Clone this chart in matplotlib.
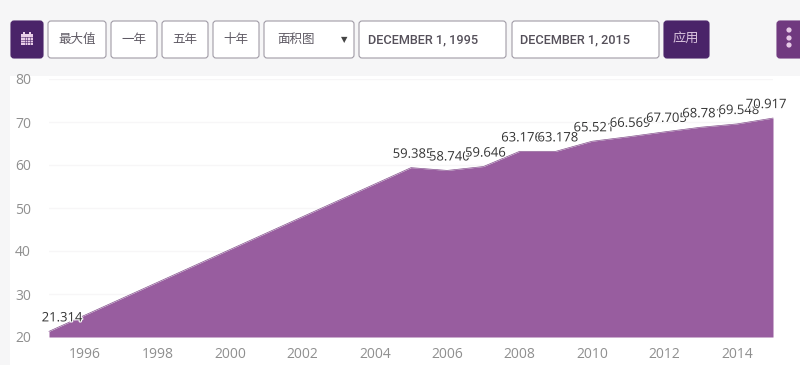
import matplotlib
matplotlib.use("Agg")
import matplotlib.pyplot as plt
import matplotlib.patheffects as pe
from matplotlib.patches import FancyBboxPatch, Rectangle, Circle

plt.rcParams['font.family'] = ['Open Sans', 'Noto Sans CJK SC', 'DejaVu Sans']

years = [1995, 2005, 2006, 2007, 2008, 2009, 2010, 2011, 2012, 2013, 2014, 2015]
values = [21.314, 59.385, 58.74, 59.646, 63.176, 63.178, 65.521, 66.569, 67.705, 68.781, 69.548, 70.917]
labels = ['21.314', '59.385', '58.740', '59.646', '63.176', '63.178', '65.521', '66.569', '67.705', '68.781', '69.548', '70.917']
# the first and last label get pushed inwards by the chart
label_shift = [13, 2, 2, 2, 2, 2, 2, 2, 2, 2, 2, -7]
x_ticks = [1996, 1998, 2000, 2002, 2004, 2006, 2008, 2010, 2012, 2014]
y_ticks = [20, 30, 40, 50, 60, 70, 80]
buttons = ['最大值', '一年', '五年', '十年']
date_from = 'DECEMBER 1, 1995'
date_to = 'DECEMBER 1, 2015'

W, H = 800, 365
fig = plt.figure(figsize=(W / 100, H / 100), dpi=100, facecolor='#f6f6f7')

# toolbar and page background, in pixels
ui = fig.add_axes([0, 0, 1, 1], zorder=0)
ui.set_xlim(0, W)
ui.set_ylim(H, 0)
ui.axis('off')
ui.add_patch(Rectangle((10, 76), 790, 289, fc='white', ec='none'))


def button(x, y, w, h, fc='white', ec='#a09ba6'):
    ui.add_patch(FancyBboxPatch((x + 2, y + 2), w - 4, h - 4, boxstyle='round,pad=2,rounding_size=3',
                                fc=fc, ec=ec, lw=0.8))


button(11, 21, 32, 37, fc='#4a2469', ec='#4a2469')
ui.add_patch(Rectangle((21, 34), 12, 11, fc='#e8cfe8', ec='none'))
ui.add_patch(Rectangle((23, 32), 2, 3, fc='#e8cfe8', ec='none'))
ui.add_patch(Rectangle((29, 32), 2, 3, fc='#e8cfe8', ec='none'))
for gx in (24.5, 27, 29.5):
    ui.plot([gx, gx], [37, 44.5], color='#4a2469', lw=0.4)
for gy in (37, 39.5, 42):
    ui.plot([21, 33], [gy, gy], color='#4a2469', lw=0.4)

btn_x = [48, 111, 162, 213]
btn_w = [58, 46, 46, 46]
for bx, bw, name in zip(btn_x, btn_w, buttons):
    button(bx, 21, bw, 37)
    ui.text(bx + bw / 2, 39.5, name, ha='center', va='center', fontsize=9, color='#5f5a64')

button(264, 21, 90, 37)
ui.text(277, 39.5, '面积图', ha='left', va='center', fontsize=9, color='#5f5a64')
ui.text(344, 39.5, '▼', ha='center', va='center', fontsize=6, color='#444444', family='DejaVu Sans')

button(359, 21, 147, 37)
ui.text(368, 40, date_from, ha='left', va='center', fontsize=9.2, fontweight='medium',
        color='#55505a', family='Roboto')
button(512, 21, 147, 37)
ui.text(520, 40, date_to, ha='left', va='center', fontsize=9.2, fontweight='medium',
        color='#55505a', family='Roboto')

button(664, 21, 45, 37, fc='#4a2469', ec='#4a2469')
ui.text(686, 39.5, '应用', ha='center', va='center', fontsize=9.5, color='#d9c3de')

button(777, 21, 31, 37, fc='#70397f', ec='#70397f')
for dy in (30, 38, 45):
    ui.add_patch(Circle((789, dy), 2.6, fc='#e6c9e6', ec='none'))

# chart, axes box placed so that 1995 = 49px, 2015 = 773px, 80 = 79px, 20 = 337px
ax = fig.add_axes([49 / W, 1 - 337 / H, (773 - 49) / W, (337 - 79) / H], zorder=1)
ax.patch.set_alpha(0)
ax.set_xlim(1995, 2015)
ax.set_ylim(20, 80)
ax.fill_between(years, values, 20, color='#985d9f', lw=0, clip_on=False)
ax.plot(years, values, color='#84508d', lw=0.5, clip_on=False)

for s in ax.spines.values():
    s.set_visible(False)
ax.set_xticks(x_ticks)
ax.set_yticks(y_ticks)
ax.tick_params(length=0, labelsize=10, labelcolor='#8f8f8f')
ax.tick_params(axis='x', pad=7)
ax.tick_params(axis='y', pad=13)
ax.grid(axis='y', color='#f7f6f7', lw=1)
ax.set_axisbelow(True)

halo = [pe.withStroke(linewidth=1.6, foreground='white')]
for x, y, t, dx in zip(years, values, labels, label_shift):
    ax.annotate(t, (x, y), xytext=(dx * 0.72, 5), textcoords='offset points', ha='center', va='bottom',
                fontsize=9.4, color='#333333', annotation_clip=False, path_effects=halo)

fig.savefig('out.png', dpi=100, facecolor=fig.get_facecolor())
